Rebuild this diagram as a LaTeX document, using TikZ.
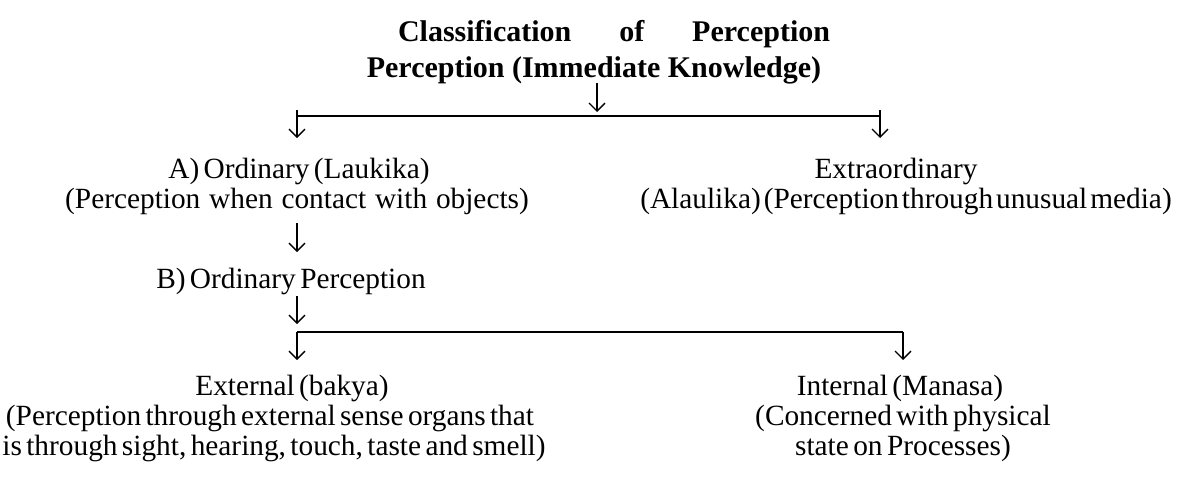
\documentclass[tikz,border=0pt]{standalone}
\usepackage{fontspec}
\setmainfont{Liberation Serif}
\usetikzlibrary{arrows.meta}
% one line of text spread to a given width
\newcommand\fitline[2]{\makebox[#1][s]{#2}}
% tighter word spacing for the body text
\newcommand\tight{\spaceskip=0.15em plus 0.05em minus 0.05em\relax}
\begin{document}
\begin{tikzpicture}[x=0.75pt,y=-0.75pt,
  txt/.style={inner sep=0pt,anchor=base,font=\fontsize{22}{26}\selectfont\tight},
  ttl/.style={inner sep=0pt,anchor=base,font=\fontsize{22.5}{27}\selectfont\bfseries},
  conn/.style={line width=1pt},
  arr/.style={line width=1pt,-{Straight Barb[length=6pt,width=12pt,line width=1pt]}}]
\useasboundingbox (0,0) rectangle (1178,476);
% headings
\node[ttl] (title) at (614,41) {\fitline{324pt}{Classification of Perception}};
\node[ttl] (root) at (594,77) {Perception (Immediate Knowledge)};
% first split
\coordinate (r0) at (597,83);
\coordinate (r1) at (597,112);
\coordinate (s1a) at (297,116);
\coordinate (s1b) at (880,116);
\coordinate (s1l) at (297,110);
\coordinate (s1r) at (880,110);
\coordinate (e1l) at (297,138);
\coordinate (e1r) at (880,138);
\draw[arr] (r0) -- (r1);
\draw[conn] (s1a) -- (s1b);
\draw[arr] (s1l) -- (e1l);
\draw[arr] (s1r) -- (e1r);
% ordinary / extraordinary
\node[txt] (ord) at (299,178) {A) Ordinary (Laukika)};
\node[txt] (ord2) at (297,208) {\spaceskip=0.3em\relax(Perception when contact with objects)};
\node[txt] (ext) at (896,178) {Extraordinary};
\node[txt] (ext2) at (906,208) {\spaceskip=0.1em\relax(Alaulika) (Perception through unusual media)};
\coordinate (o0) at (297,223);
\coordinate (o1) at (297,252);
\draw[arr] (o0) -- (o1);
\node[txt] (ordp) at (291,288) {B) Ordinary Perception};
\coordinate (p0) at (297,296);
\coordinate (p1) at (297,324);
\draw[arr] (p0) -- (p1);
% second split
\coordinate (s2l) at (297,332);
\coordinate (s2r) at (903,332);
\coordinate (e2l) at (297,360);
\coordinate (e2r) at (903,360);
\draw[conn] (s2l) -- (s2r);
\draw[arr] (s2l) -- (e2l);
\draw[arr] (s2r) -- (e2r);
% leaves
\node[txt] (bakya) at (292,395) {External (bakya)};
\node[txt] (bakya2) at (270,425) {(Perception through external sense organs that};
\node[txt] (bakya3) at (274,455) {is through sight, hearing, touch, taste and smell)};
\node[txt] (man) at (900,395) {Internal (Manasa)};
\node[txt] (man2) at (903,425) {(Concerned with physical};
\node[txt] (man3) at (903,455) {state on Processes)};
\end{tikzpicture}
\end{document}
